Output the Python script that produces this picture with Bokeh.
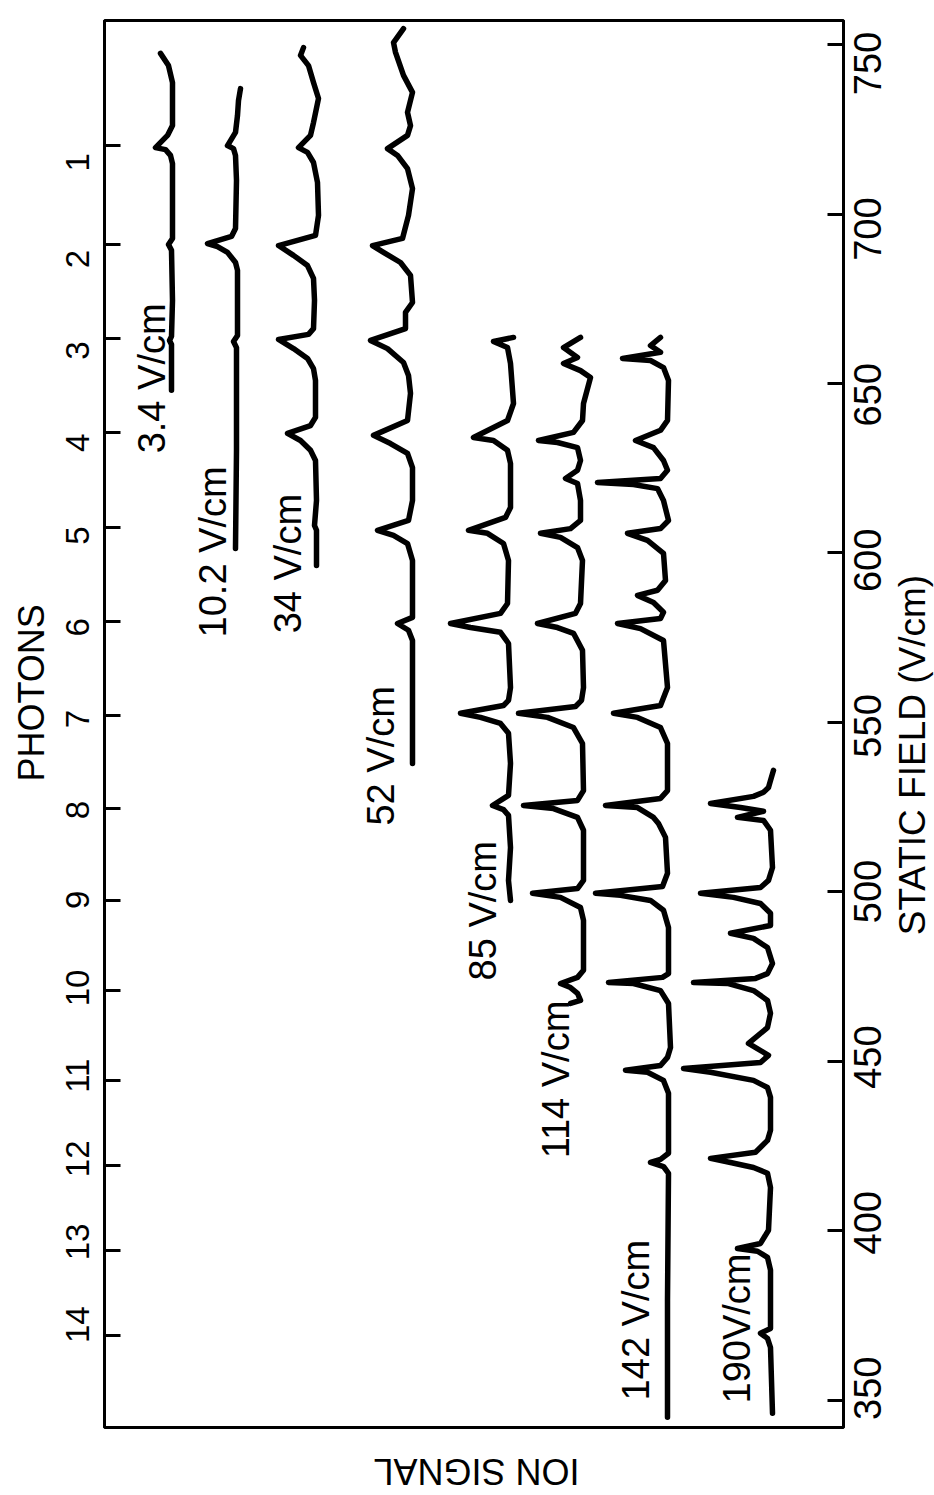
import math

from bokeh.core.properties import value
from bokeh.embed import file_html
from bokeh.layouts import column, row
from bokeh.models import FixedTicker, LinearAxis, Range1d
from bokeh.plotting import figure
from bokeh.resources import INLINE

# Static field (V/cm) and ion signal (arb. units, each scan offset) per scan
field_3_4 = [747.4, 743.8, 738.8, 726.1, 723.2, 719.6, 719.0, 717.3, 714.9, 692.8,
             691.0, 689.3, 674.5, 663.9, 662.7, 661.5, 648.0]
signal_3_4 = [683, 675, 671, 671, 676, 688, 678, 673, 671, 671,
              675, 672, 671, 672, 674, 672, 672]

field_10_2 = [737.0, 733.5, 729.1, 724.1, 720.2, 719.3, 717.3, 709.9, 695.7, 693.4,
              691.3, 690.4, 688.7, 685.7, 683.4, 664.2, 662.4, 660.6, 630.3, 601.3]
signal_10_2 = [603, 605, 606, 608, 616, 610, 608, 607, 608, 612,
               636, 626, 616, 608, 606, 606, 610, 607, 607, 608]

field_34 = [749.1, 746.8, 743.8, 738.8, 734.1, 727.0, 723.2, 719.6, 718.2, 715.2,
            709.3, 699.6, 693.7, 690.7, 687.8, 684.8, 681.0, 674.5, 666.2, 664.5,
            663.0, 660.3, 657.4, 654.4, 650.9, 640.0, 637.6, 635.3, 633.2, 630.3,
            627.3, 615.5, 608.1, 606.7, 596.3]
signal_34 = [540, 543, 535, 530, 525, 530, 533, 545, 536, 530,
             526, 525, 528, 565, 550, 536, 530, 529, 530, 535,
             565, 550, 536, 530, 528, 528, 533, 556, 543, 533,
             528, 527, 529, 527, 527]

field_52 = [754.7, 750.6, 747.7, 740.9, 735.9, 730.0, 726.1, 723.2, 719.3, 717.3,
            713.4, 707.5, 699.6, 692.8, 690.7, 688.7, 685.7, 681.9, 673.9, 671.0,
            666.2, 662.7, 660.3, 656.2, 652.4, 647.1, 639.1, 634.7, 632.3, 629.4,
            625.2, 615.5, 609.6, 606.7, 605.2, 602.8, 597.8, 581.0, 579.2, 577.2,
            574.2, 537.9]
signal_52 = [440, 450, 448, 440, 431, 436, 433, 436, 456, 446,
             436, 431, 435, 441, 471, 460, 443, 433, 431, 438,
             438, 473, 456, 440, 435, 433, 436, 470, 453, 436,
             431, 431, 435, 466, 450, 436, 431, 431, 446, 435,
             431, 431]

field_85 = [663.6, 662.4, 660.6, 655.9, 644.1, 639.1, 634.1, 633.2, 630.3, 626.4,
            613.4, 610.5, 606.7, 605.8, 602.8, 597.8, 585.1, 582.2, 579.2, 578.0,
            576.6, 573.3, 560.3, 556.5, 555.0, 552.7, 551.5, 549.7, 546.8, 537.9,
            528.5, 525.5, 524.3, 522.6, 513.1, 503.4, 497.5]
signal_85 = [330, 350, 336, 333, 330, 336, 370, 350, 336, 333,
             333, 338, 375, 356, 340, 335, 336, 343, 393, 373,
             343, 335, 333, 335, 340, 383, 363, 343, 335, 333,
             335, 351, 340, 335, 333, 335, 333]

field_114 = [663.6, 660.6, 657.7, 655.9, 653.8, 651.8, 644.1, 639.1, 635.6, 633.2,
             632.6, 631.1, 627.3, 624.4, 622.0, 620.5, 615.5, 609.6, 607.2, 605.8,
             604.6, 601.6, 597.8, 585.1, 582.2, 579.2, 578.0, 576.3, 571.3, 560.3,
             556.5, 554.7, 552.7, 551.5, 548.5, 543.8, 529.9, 527.0, 525.5, 524.6,
             522.0, 518.2, 503.4, 501.0, 499.6, 498.4, 495.4, 491.6, 476.9, 474.8,
             473.0, 471.8, 470.1, 468.0, 467.1]
signal_114 = [263, 280, 266, 280, 263, 253, 260, 261, 270, 305,
              286, 266, 263, 266, 278, 266, 263, 263, 273, 303,
              283, 266, 261, 263, 268, 306, 286, 270, 261, 260,
              262, 268, 325, 296, 270, 261, 260, 266, 320, 290,
              266, 260, 260, 266, 311, 283, 263, 260, 260, 266,
              283, 273, 266, 263, 273]

field_142 = [663.6, 661.2, 659.2, 657.4, 656.8, 654.7, 650.9, 639.1, 636.2, 633.2,
             631.1, 627.3, 624.4, 622.0, 620.8, 620.2, 619.0, 615.5, 609.6, 607.2,
             605.8, 603.7, 599.9, 591.9, 589.0, 587.5, 585.4, 582.5, 580.7, 579.2,
             577.7, 574.2, 560.3, 555.0, 552.7, 551.5, 548.5, 543.8, 529.9, 527.6,
             525.5, 524.9, 522.0, 520.2, 516.1, 505.5, 501.6, 499.6, 499.0, 497.5,
             494.6, 489.5, 475.9, 474.8, 473.3, 473.0, 470.9, 467.1, 454.1, 451.2,
             448.8, 447.4, 446.8, 444.4, 440.6, 422.9, 421.1, 420.2, 419.0, 417.0,
             379.5, 345.0]
signal_142 = [183, 193, 183, 221, 193, 180, 175, 176, 183, 208,
              190, 180, 176, 183, 246, 210, 186, 180, 175, 183,
              216, 196, 180, 178, 186, 206, 190, 180, 183, 226,
              203, 180, 176, 183, 230, 206, 183, 176, 176, 183,
              238, 206, 190, 185, 178, 176, 181, 248, 223, 193,
              180, 175, 175, 181, 235, 210, 183, 175, 173, 176,
              183, 218, 196, 180, 175, 175, 183, 193, 180, 175,
              176, 176]

field_190 = [535.9, 532.9, 530.8, 529.4, 528.2, 526.1, 524.9, 523.8, 522.0, 521.1,
             518.2, 507.2, 503.4, 501.3, 499.6, 498.4, 496.6, 493.7, 490.1, 487.8,
             486.3, 483.6, 478.9, 475.9, 474.5, 473.3, 473.0, 470.9, 468.0, 464.2,
             460.0, 455.3, 451.8, 449.7, 447.9, 446.8, 444.4, 442.3, 439.4, 429.7,
             426.7, 423.2, 421.4, 420.2, 418.7, 417.0, 412.8, 400.2, 396.3, 394.8,
             394.0, 392.2, 388.4, 371.2, 369.8, 368.3, 365.6, 346.2]
signal_190 = [70, 73, 75, 80, 90, 133, 103, 80, 106, 80,
              73, 71, 75, 83, 143, 110, 83, 73, 73, 113,
              90, 76, 71, 76, 88, 150, 116, 90, 76, 73,
              76, 95, 75, 83, 160, 133, 90, 76, 73, 73,
              76, 88, 133, 113, 90, 76, 73, 75, 83, 106,
              86, 76, 73, 73, 83, 76, 73, 71]

# Microwave field amplitude of each scan, with where its caption sits
scan_labels = ["3.4 V/cm", "10.2 V/cm", "34 V/cm", "52 V/cm",
               "85 V/cm", "114 V/cm", "142 V/cm", "190V/cm"]
label_signal = [692, 631, 556, 463, 361, 288, 208, 107]
label_field = [629.4, 575.1, 576.3, 519.6, 473.9, 421.4, 350.0, 349.1]

# n-photon resonance positions along the static field
photon_numbers = [1, 2, 3, 4, 5, 6, 7, 8, 9, 10, 11, 12, 13, 14]
photon_fields = [720.2, 691.0, 663.3, 635.5, 607.5, 579.8, 552.1,
                 524.6, 497.5, 470.9, 444.4, 419.3, 394.2, 369.2]

field_ticks = [350, 400, 450, 500, 550, 600, 650, 700, 750]

scans = [
    (field_3_4, signal_3_4), (field_10_2, signal_10_2), (field_34, signal_34),
    (field_52, signal_52), (field_85, signal_85), (field_114, signal_114),
    (field_142, signal_142), (field_190, signal_190),
]

FONT = "Liberation Sans"

# ---- layout geometry (pixels) ----
ROW_H = 1440          # height of the row holding the plot and its side strips
PAD_TOP, PAD_BOTTOM = 20, 13
LEFT_W, RIGHT_W = 102, 89
FRAME_W = 739
BOTTOM_H = 55
FIELD_LO, FIELD_HI = 342.0, 757.1

px_per_unit = (ROW_H - PAD_TOP - PAD_BOTTOM) / (FIELD_HI - FIELD_LO)
field_range = Range1d(FIELD_LO, FIELD_HI)
# side strips use the same field scale over their full height
strip_range = Range1d(FIELD_LO - PAD_BOTTOM / px_per_unit,
                      FIELD_HI + PAD_TOP / px_per_unit)


def plain(fig):
    fig.grid.visible = False
    fig.outline_line_color = None
    fig.background_fill_color = "white"
    fig.border_fill_color = "white"
    return fig


def strip(width, height, x_range, y_range):
    return plain(figure(
        width=width, height=height, x_range=x_range, y_range=y_range,
        x_axis_location=None, y_axis_location=None, min_border=0,
        title=None, output_backend="svg", toolbar_location=None,
    ))


# ---- main panel: scans, frame and tick marks ----
p = figure(
    width=FRAME_W + 4, height=ROW_H,
    x_range=Range1d(FRAME_W, 0), y_range=field_range,
    x_axis_location=None, y_axis_location="right",
    min_border_left=2, min_border_right=2,
    min_border_top=PAD_TOP, min_border_bottom=PAD_BOTTOM,
    title=None, output_backend="svg", toolbar_location=None,
)
p.grid.visible = False
p.outline_line_color = "black"
p.outline_line_width = 3
p.background_fill_color = "white"
p.border_fill_color = "white"


def tick_only(ax):
    # inward tick marks; the numbers are set in the side strips
    ax.axis_line_width = 3
    ax.axis_line_color = "black"
    ax.major_tick_in = 16
    ax.major_tick_out = 0
    ax.major_tick_line_width = 3
    ax.major_tick_line_color = "black"
    ax.minor_tick_line_color = None
    ax.major_label_text_color = None
    ax.major_label_text_font_size = "0px"
    ax.major_label_standoff = 0


field_axis = p.yaxis[0]
field_axis.ticker = FixedTicker(ticks=field_ticks)
tick_only(field_axis)

photon_axis = LinearAxis(ticker=FixedTicker(ticks=photon_fields))
tick_only(photon_axis)
p.add_layout(photon_axis, "left")

for fields, signals in scans:
    p.line(signals, fields, line_color="black", line_width=5.5,
           line_join="round", line_cap="round")

p.text(x=label_signal, y=label_field, text=scan_labels, angle=math.pi / 2,
       text_align="left", text_baseline="middle",
       text_font=value(FONT), text_font_size="38px", text_color="black")

# ---- left strip: photon numbers ----
left = strip(LEFT_W, ROW_H, Range1d(0, LEFT_W), strip_range)
left.text(x=77, y=photon_fields, text=[str(n) for n in photon_numbers],
          angle=math.pi / 2, text_align="center", text_baseline="middle",
          text_font=value(FONT), text_font_size="33px", text_color="black")
left.text(x=[31], y=[560.0], text=["PHOTONS"], angle=math.pi / 2,
          text_align="center", text_baseline="middle",
          text_font=value(FONT), text_font_size="36px", text_color="black")

# ---- right strip: static field scale ----
right = strip(RIGHT_W, ROW_H, Range1d(0, RIGHT_W), strip_range)
right.text(x=22, y=field_ticks, text=[str(t) for t in field_ticks],
           angle=math.pi / 2, text_align="center", text_baseline="middle",
           text_font=value(FONT), text_font_size="38px", text_color="black")
right.text(x=[67], y=[541.2], text=["STATIC FIELD (V/cm)"], angle=math.pi / 2,
           text_align="center", text_baseline="middle",
           text_font=value(FONT), text_font_size="37px", text_color="black")

# ---- bottom strip: ion signal caption ----
total_w = LEFT_W + FRAME_W + 4 + RIGHT_W
bottom = strip(total_w, BOTTOM_H, Range1d(0, total_w), Range1d(0, BOTTOM_H))
bottom.text(x=[476], y=[24], text=["ION SIGNAL"], angle=math.pi,
            text_align="center", text_baseline="middle",
            text_font=value(FONT), text_font_size="36px", text_color="black")

layout = column(row(left, p, right), bottom)

open("out.html", "w").write(file_html(layout, INLINE))
